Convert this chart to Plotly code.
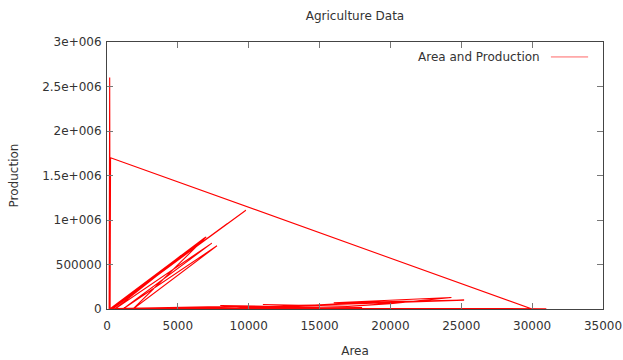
import plotly.graph_objects as go

# Data (in plotting order)
area = [150, 190, 220,
        250, 29900, 31000,
        300, 9800, 250, 8500, 350, 6800,
        200, 6900,
        560, 7400,
        1130, 7760,
        1840, 7000,
        400, 5200,
        600, 2000, 5500, 9000, 12000, 14500, 11000, 17000, 20000, 24300,
        16000, 25200, 14000, 19000, 23000, 10000, 8000, 15000, 4000, 1500, 300,
        12000, 31000, 500, 18000, 200]
production = [0, 2600000, 10000,
              1700000, 5000, 0,
              0, 1110000, 0, 960000, 0, 770000,
              0, 800000,
              0, 740000,
              0, 710000,
              0, 810000,
              0, 600000,
              5000, 10000, 20000, 30000, 25000, 40000, 50000, 30000, 60000, 130000,
              70000, 100000, 40000, 80000, 90000, 20000, 40000, 20000, 10000, 5000, 0,
              8000, 3000, 2000, 15000, 0]

x_ticks = [0, 5000, 10000, 15000, 20000, 25000, 30000, 35000]
y_ticks = [0, 500000, 1000000, 1500000, 2000000, 2500000, 3000000]
y_tick_text = ["0", "500000", "1e+006", "1.5e+006", "2e+006", "2.5e+006", "3e+006"]

font = "DejaVu Sans"
txt = "#333333"

fig = go.Figure()
fig.add_trace(go.Scatter(x=area, y=production, mode="lines",
                         line=dict(color="#ff0000", width=1.1),
                         name="Area and Production", showlegend=False))

fig.update_layout(
    width=623, height=360,
    margin=dict(l=107, r=20, t=42, b=51, autoexpand=False),
    paper_bgcolor="white", plot_bgcolor="white",
    font=dict(family=font, size=12, color=txt),
    title=dict(text="Agriculture Data", x=0.5, xref="paper", y=0.955, yanchor="middle",
               font=dict(family=font, size=12, color=txt)),
    xaxis=dict(range=[0, 35000], tickvals=x_ticks, ticktext=[str(v) for v in x_ticks],
               automargin=False,
               showgrid=False, zeroline=False, showline=True, linecolor="#444444", linewidth=1,
               mirror="ticks", ticks="inside", ticklen=6, tickcolor="#777777",
               ticklabelstandoff=6,
               title=dict(text="Area", standoff=14, font=dict(size=12, color=txt))),
    yaxis=dict(range=[0, 3000000], tickvals=y_ticks, ticktext=y_tick_text,
               automargin=False,
               showgrid=False, zeroline=False, showline=True, linecolor="#444444", linewidth=1,
               mirror="ticks", ticks="inside", ticklen=6, tickcolor="#777777",
               ticklabelstandoff=2,
               title=dict(text="Production", standoff=20, font=dict(size=12, color=txt))),
    annotations=[dict(text="Area and Production", xref="paper", yref="paper",
                      x=0.877, y=0.944, xanchor="right", yanchor="middle", showarrow=False,
                      font=dict(family=font, size=12, color=txt))],
    shapes=[dict(type="line", xref="paper", yref="paper", x0=0.895, x1=0.970,
                 y0=0.944, y1=0.944, line=dict(color="#ff6666", width=1))],
)

fig.write_html("out.html")
